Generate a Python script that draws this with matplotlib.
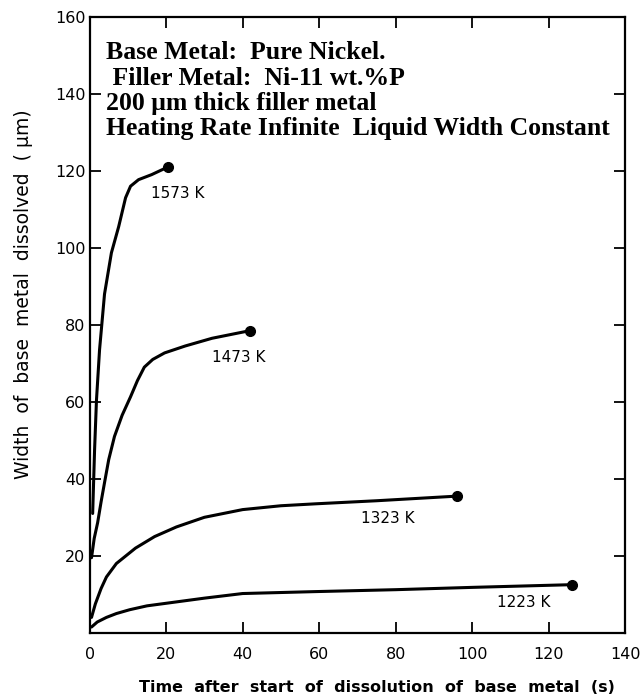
import matplotlib
matplotlib.use("Agg")
import matplotlib.pyplot as plt

# Data
t_1573 = [0.8, 1.3, 1.8, 2.6, 3.9, 5.7, 7.6, 9.4, 10.7, 12.8, 16.2, 20.5]
w_1573 = [31, 47.5, 60.5, 73.5, 88, 98.7, 105.5, 113, 116, 117.7, 119, 121]

t_1473 = [0.5, 1.2, 2.1, 3.0, 3.9, 5.0, 6.5, 8.5, 10.7, 12.5, 14.3, 16.5, 19.6, 25, 32, 42]
w_1473 = [19.5, 24.5, 28.6, 34, 39, 45, 51, 56.5, 61.3, 65.5, 69, 71, 72.7, 74.5, 76.5, 78.5]

t_1323 = [0.5, 1.5, 3, 4.4, 7, 12, 17, 22.7, 30, 40, 50, 59, 75, 96]
w_1323 = [4, 7.5, 11.5, 14.5, 18, 22, 25, 27.5, 30, 32, 33, 33.5, 34.3, 35.5]

t_1223 = [0.5, 2, 4.4, 7, 10.5, 15, 21, 30, 40, 59, 80, 100, 126]
w_1223 = [1.5, 2.8, 4, 5, 6, 7, 7.8, 9, 10.2, 10.7, 11.2, 11.8, 12.5]

series = [("1573 K", t_1573, w_1573, (23, 114)),
          ("1473 K", t_1473, w_1473, (39, 71.5)),
          ("1323 K", t_1323, w_1323, (78, 29.8)),
          ("1223 K", t_1223, w_1223, (113.5, 7.8))]

x_ticks = [0, 20, 40, 60, 80, 100, 120, 140]
y_ticks = [20, 40, 60, 80, 100, 120, 140, 160]

info_lines = ["Base Metal:  Pure Nickel.",
              " Filler Metal:  Ni-11 wt.%P",
              "200 \u03bcm thick filler metal",
              "Heating Rate Infinite  Liquid Width Constant"]

fig = plt.figure(figsize=(6.4, 7.0), dpi=100)
ax = fig.add_axes([0.14, 0.096, 0.837, 0.88])

for label, t, w, (lx, ly) in series:
    ax.plot(t, w, color="black", lw=2.2, solid_capstyle="round")
    ax.plot(t[-1], w[-1], "o", color="black", ms=7)
    ax.text(lx, ly, label, ha="center", va="center", fontsize=11,
            family="DejaVu Sans")

ax.set_xlim(0, 140)
ax.set_ylim(0, 160)
ax.set_xticks(x_ticks)
ax.set_yticks(y_ticks)
ax.set_xticklabels([str(v) for v in x_ticks], fontsize=11.5)
ax.set_yticklabels([str(v) for v in y_ticks], fontsize=11.5)
ax.tick_params(direction="in", length=8, width=1.3, top=True, right=True,
               labeltop=False, labelright=False, pad=10)
ax.tick_params(axis="y", pad=3)
for s in ax.spines.values():
    s.set_linewidth(1.6)

ax.set_xlabel("Time  after  start  of  dissolution  of  base  metal  (s)",
              fontsize=11.5, fontweight="bold")
ax.set_ylabel("Width  of  base  metal  dissolved  ( \u03bcm)", fontsize=13.5)
ax.yaxis.set_label_coords(-0.105, 0.55)
ax.xaxis.set_label_coords(0.537, -0.077)

y0 = 150.6
for i, line in enumerate(info_lines):
    ax.text(4.4, y0 - i * 6.5, line, ha="left", va="center", fontsize=18.5,
            fontweight="bold", family="Liberation Serif")

fig.savefig("out.png", dpi=100)
